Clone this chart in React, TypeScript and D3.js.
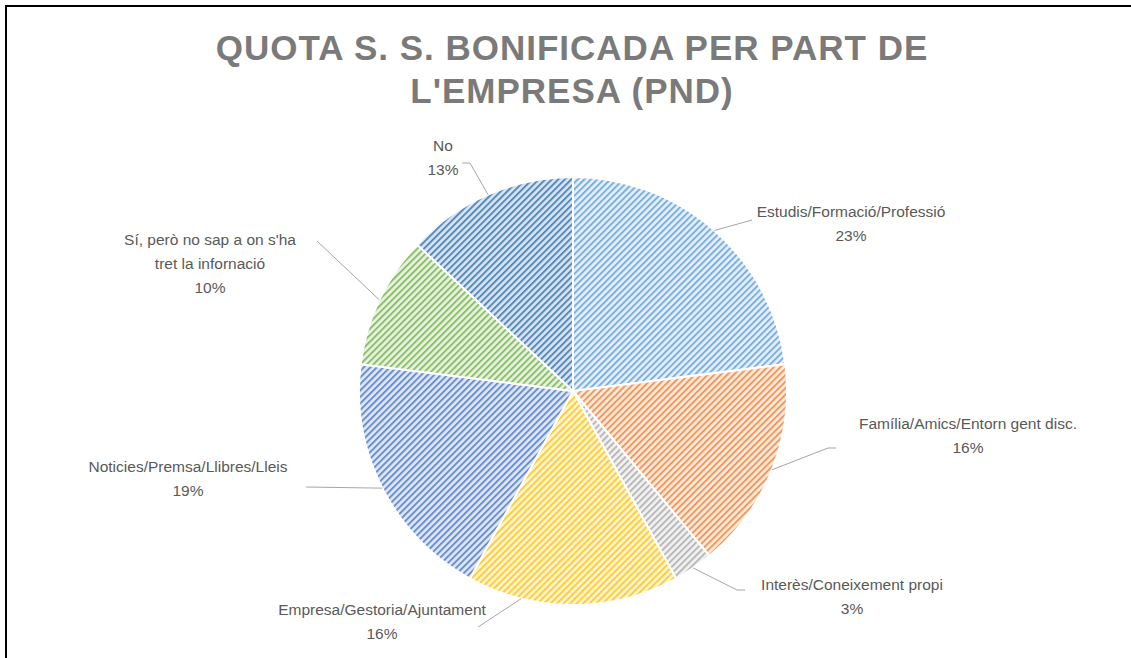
import React from "react";
import * as d3 from "d3";

const categories = [
  "Estudis/Formació/Professió",
  "Família/Amics/Entorn gent disc.",
  "Interès/Coneixement propi",
  "Empresa/Gestoria/Ajuntament",
  "Noticies/Premsa/Llibres/Lleis",
  "Sí, però no sap a on s'ha tret la infornació",
  "No",
];
const values = [23, 16, 3, 16, 19, 10, 13];
const percentLabels = ["23%", "16%", "3%", "16%", "19%", "10%", "13%"];
const labelLines = [
  ["Estudis/Formació/Professió"],
  ["Família/Amics/Entorn gent disc."],
  ["Interès/Coneixement propi"],
  ["Empresa/Gestoria/Ajuntament"],
  ["Noticies/Premsa/Llibres/Lleis"],
  ["Sí, però no sap a on s'ha", "tret la infornació"],
  ["No"],
];
const titleLines = ["QUOTA S. S. BONIFICADA PER PART DE", "L'EMPRESA (PND)"];

// styles / layout
const stripeColors = ["#5B9BD5", "#ED7D31", "#A5A5A5", "#FFC000", "#4472C4", "#70AD47", "#2E6AA8"];
const bgColors = ["#E6F0FA", "#FDEBDF", "#F2F2F2", "#FFF5D6", "#E0E8F6", "#E8F4E0", "#D8E6F4"];
// label block center x, first baseline y
const labelPos = [
  [851, 217],
  [968, 429],
  [852, 590],
  [382, 615],
  [188, 472],
  [210, 245],
  [443, 151],
];
// leader polyline end points (label side), and optional anchor angle override (degrees)
const leaderEnds: number[][][] = [
  [[752, 220]],
  [[828, 448], [836, 448]],
  [[737, 590], [745, 590]],
  [[478, 627]],
  [[306, 487]],
  [[317, 241]],
  [[470, 163], [462, 163]],
];
const anchorAngle: (number | null)[] = [null, null, null, 194, null, null, null];

const W = 1131;
const H = 658;
const cx = 573;
const cy = 391;
const R = 214;

export default function App() {
  const pie = d3.pie<number>().sort(null).value((d) => d);
  const arcs = pie(values);
  const arcGen = d3.arc<d3.PieArcDatum<number>>().innerRadius(0).outerRadius(R);
  const labelFont = "'Liberation Sans', Arial, sans-serif";

  return (
    <svg
      width={W}
      height={H}
      style={{ position: "absolute", left: 0, top: 0, background: "#fff" }}
    >
      <defs>
        {stripeColors.map((c, i) => (
          <pattern
            key={i}
            id={`pat${i}`}
            width={4.6}
            height={4.6}
            patternUnits="userSpaceOnUse"
            patternTransform="rotate(-45)"
          >
            <rect width={4.6} height={4.6} fill={bgColors[i]} />
            <rect width={4.6} height={2} fill={c} opacity={0.75} />
          </pattern>
        ))}
      </defs>
      <rect x={6} y={6} width={W + 20} height={H + 20} fill="#fff" stroke="#000" strokeWidth={2} />
      <g fontFamily={labelFont} fontWeight="bold" fontSize={35} fill="#7A7A7A" textAnchor="middle" letterSpacing={1}>
        {titleLines.map((t, i) => (
          <text key={i} x={572} y={60 + i * 43}>
            {t}
          </text>
        ))}
      </g>
      <g transform={`translate(${cx},${cy})`}>
        {arcs.map((a, i) => (
          <path key={i} d={arcGen(a) || ""} fill={`url(#pat${i})`} stroke="#fff" strokeWidth={2} />
        ))}
      </g>
      <g fill="none" stroke="#A6A6A6" strokeWidth={1}>
        {arcs.map((a, i) => {
          const ang = anchorAngle[i] != null ? ((anchorAngle[i] as number) * Math.PI) / 180 : (a.startAngle + a.endAngle) / 2;
          const sx = cx + R * Math.sin(ang);
          const sy = cy - R * Math.cos(ang);
          const pts = [[sx, sy], ...leaderEnds[i]];
          return <path key={i} d={d3.line()(pts as [number, number][]) || ""} />;
        })}
      </g>
      <g fontFamily={labelFont} fontSize={15.5} fill="#595959" textAnchor="middle">
        {categories.map((c, i) => {
          const lines = [...labelLines[i], percentLabels[i]];
          return (
            <text key={c} x={labelPos[i][0]} y={labelPos[i][1]}>
              {lines.map((l, j) => (
                <tspan key={j} x={labelPos[i][0]} y={labelPos[i][1] + j * 24}>
                  {l}
                </tspan>
              ))}
            </text>
          );
        })}
      </g>
    </svg>
  );
}
